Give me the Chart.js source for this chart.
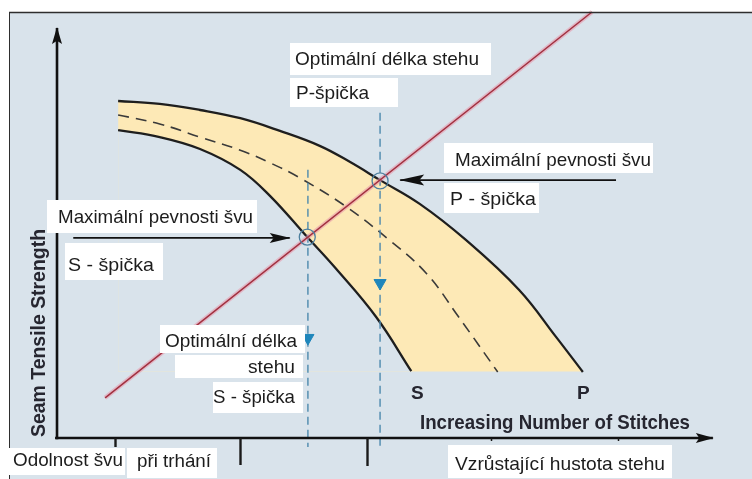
<!DOCTYPE html>
<html><head><meta charset="utf-8">
<script src="https://cdn.jsdelivr.net/npm/chart.js@4.4.0/dist/chart.umd.min.js"></script>
<style>html,body{margin:0;padding:0;background:#fff;overflow:hidden}#wrap{width:752px;height:479px;position:relative}</style>
</head><body><div id="wrap"><canvas id="c" width="752" height="479"></canvas></div>
<script>
// ---- data (schematic units: x = stitch density, y = seam strength) ----
const pCurveX = [9.4, 15.8, 22.0, 28.2, 34.3, 40.5, 45.1, 49.7, 55.8, 62.9, 71.1, 76.8, 80.9];
const pCurveY = [82.2, 81.5, 80.0, 78.0, 74.9, 71.2, 67.3, 62.9, 57.1, 48.3, 36.1, 24.6, 16.1];
const mCurveX = [9.4, 15.8, 22.0, 28.2, 32.8, 37.4, 44.6, 51.1, 56.8, 61.8, 67.8];
const mCurveY = [78.8, 76.6, 73.4, 70.2, 67.1, 63.4, 56.3, 48.3, 40.2, 29.5, 16.1];
const sCurveX = [9.4, 15.8, 22.0, 28.2, 32.8, 38.5, 42.8, 49.1, 54.5];
const sCurveY = [75.1, 73.4, 70.5, 65.4, 59.0, 49.0, 41.5, 29.5, 16.3];
const bandFloorY = 16.2;
const redLineX = [7.4, 82.3];
const redLineY = [9.8, 103.9];
const optimumX = [38.6, 49.7];          // S peak, P peak
const optimumTopY = [65.4, 79.3];
const optimumBottomY = [-2.2, -2.2];
const markerY = [24.4, 37.8];           // down-pointing triangles
const peakX = [38.5, 49.7];
const peakY = [49.0, 62.7];
const tickX = [8.9, 28.2, 47.7, 66.8, 86.3];
const tickLen = [9, 27, 28, 3, 3];
const axisMaxX = 100.9, axisMaxY = 100;
const arrowSX = [2.5, 35.8], arrowSY = 48.8;
const arrowPX = [86.0, 52.8], arrowPY = 62.9;

const boxLabels = [
  {text:'Optimální délka stehu', box:[290,43,201,32], x:295, y:65, align:'left', w:184},
  {text:'P-špička', box:[290,78,108,29], x:296, y:99, align:'left', w:73},
  {text:'Maximální pevnosti švu', box:[444,143,209,30], x:455, y:166, align:'left', w:196},
  {text:'P - špička', box:[444,183,95,30], x:450, y:205, align:'left', w:86},
  {text:'Maximální pevnosti švu', box:[47,200,210,33], x:58, y:223, align:'left', w:195},
  {text:'S - špička', box:[65,243,98,37], x:68, y:271, align:'left', w:86},
  {text:'Optimální délka', box:[160,325,145,28], x:297, y:347, align:'right', w:132},
  {text:'stehu', box:[175,355,128,23], x:295, y:373, align:'right', w:47},
  {text:'S - špička', box:[213,382,90,31], x:295, y:403, align:'right', w:82},
  {text:'Odolnost švu', box:[8,448,117,27], x:13, y:466, align:'left', w:110},
  {text:'při trhání', box:[127,448,90,30], x:137, y:467, align:'left', w:74},
  {text:'Vzrůstající hustota stehu', box:[448,445,224,33], x:455, y:470, align:'left', w:210}
];
const boldLabels = [
  {text:'Increasing Number of Stitches', x:420, y:429, w:270, rot:0, size:21},
  {text:'S', x:411, y:399, w:0, rot:0, size:19},
  {text:'P', x:577, y:399, w:0, rot:0, size:19},
  {text:'Seam Tensile Strength', x:45, y:437, w:208, rot:-90, size:21}
];

const BG = '#d9e3eb';
const pts = (xs, ys) => xs.map((x, i) => ({x, y: Array.isArray(ys) ? ys[i] : ys}));

function fitText(ctx, t, x, y, align, w, font, rot) {
  ctx.save();
  ctx.font = font;
  const m = ctx.measureText(t).width;
  const s = w ? w / m : 1;
  ctx.translate(x, y);
  if (rot) ctx.rotate(rot * Math.PI / 180);
  ctx.scale(s, 1);
  ctx.textAlign = align;
  ctx.textBaseline = 'alphabetic';
  ctx.fillText(t, 0, 0);
  ctx.restore();
}

const decor = {
  id: 'decor',
  beforeDraw(chart) {
    const ctx = chart.ctx;
    ctx.save();
    ctx.fillStyle = '#ffffff';
    ctx.fillRect(0, 0, 752, 479);
    ctx.fillStyle = BG;
    ctx.fillRect(9, 12, 743, 467);
    ctx.restore();
  },
  afterDatasetsDraw(chart) {
    const ctx = chart.ctx, xs = chart.scales.x, ys = chart.scales.y;
    // arrowheads
    chart.data.datasets.forEach((ds, i) => {
      if (!ds.arrow) return;
      const pts = chart.getDatasetMeta(i).data;
      const a = pts[pts.length - 2], b = pts[pts.length - 1];
      const ang = Math.atan2(b.y - a.y, b.x - a.x);
      const L = ds.arrow[0], H = ds.arrow[1];
      ctx.save();
      ctx.translate(b.x, b.y); ctx.rotate(ang);
      ctx.fillStyle = ds.borderColor;
      ctx.beginPath();
      ctx.moveTo(1, 0); ctx.lineTo(-L, -H); ctx.lineTo(-L * 0.8, 0); ctx.lineTo(-L, H); ctx.closePath();
      ctx.fill();
      ctx.restore();
    });
    // ticks under the axis
    ctx.save();
    ctx.strokeStyle = '#1a1a1a';
    const y0 = ys.getPixelForValue(0);
    tickX.forEach((v, i) => {
      const px = Math.round(xs.getPixelForValue(v)) + 0.5;
      ctx.lineWidth = tickLen[i] > 5 ? 2.4 : 1.5;
      ctx.beginPath(); ctx.moveTo(px, y0); ctx.lineTo(px, y0 + tickLen[i]); ctx.stroke();
    });
    ctx.restore();
    // frame
    ctx.save();
    ctx.strokeStyle = '#2e2e2e';
    ctx.lineWidth = 1.5;
    ctx.beginPath(); ctx.moveTo(9, 12.5); ctx.lineTo(752, 12.5); ctx.stroke();
    ctx.lineWidth = 1;
    ctx.beginPath(); ctx.moveTo(9.5, 12); ctx.lineTo(9.5, 479); ctx.stroke();
    ctx.restore();
    // white label boxes
    ctx.save();
    boxLabels.forEach(l => {
      ctx.fillStyle = '#ffffff';
      ctx.fillRect(l.box[0], l.box[1], l.box[2], l.box[3]);
      ctx.fillStyle = '#1c1c1c';
      fitText(ctx, l.text, l.x, l.y, l.align, l.w, '19px "Liberation Sans", Arial, sans-serif', 0);
    });
    ctx.fillStyle = '#262630';
    boldLabels.forEach(l => {
      fitText(ctx, l.text, l.x, l.y, 'left', l.w, 'bold ' + l.size + 'px "Liberation Sans", Arial, sans-serif', l.rot);
    });
    ctx.restore();
  }
};

const lineBase = {pointRadius: 0, fill: false, tension: 0};
const curve = {tension: 0.4, cubicInterpolationMode: 'default'};
new Chart(document.getElementById('c'), {
  type: 'line',
  data: {
    datasets: [
      Object.assign({}, lineBase, curve, {label: 'P', data: pts(pCurveX, pCurveY), borderColor: '#1e1e1e', borderWidth: 2.3,
        fill: {value: bandFloorY}, backgroundColor: '#fde9b6', order: 20}),
      Object.assign({}, lineBase, curve, {label: 'S', data: pts(sCurveX, sCurveY), borderColor: '#1e1e1e', borderWidth: 2.3,
        fill: {value: bandFloorY}, backgroundColor: BG, order: 19}),
      Object.assign({}, lineBase, curve, {label: 'mid', data: pts(mCurveX, mCurveY), borderColor: '#3a3a3a', borderWidth: 1.6,
        borderDash: [11, 7], order: 18}),
      Object.assign({}, lineBase, {label: 'optS', data: [{x: optimumX[0], y: optimumTopY[0]}, {x: optimumX[0], y: optimumBottomY[0]}],
        borderColor: '#4e8aae', borderWidth: 1.4, borderDash: [8, 5], order: 16}),
      Object.assign({}, lineBase, {label: 'optP', data: [{x: optimumX[1], y: optimumTopY[1]}, {x: optimumX[1], y: optimumBottomY[1]}],
        borderColor: '#4e8aae', borderWidth: 1.4, borderDash: [8, 5], order: 16}),
      Object.assign({}, lineBase, {label: 'redHalo', data: pts(redLineX, redLineY), borderColor: 'rgba(232,150,170,0.55)', borderWidth: 4.5, order: 15}),
      Object.assign({}, lineBase, {label: 'red', data: pts(redLineX, redLineY), borderColor: '#a2303f', borderWidth: 1.5, order: 14}),
      {label: 'peaks', data: pts(peakX, peakY), showLine: false, pointStyle: 'circle', pointRadius: 8,
        pointBorderColor: '#4d7f9e', pointBackgroundColor: 'rgba(0,0,0,0)', pointBorderWidth: 1.3, order: 13},
      {label: 'markers', data: pts(optimumX, markerY), showLine: false, pointStyle: 'triangle', pointRotation: 180, pointRadius: 7,
        pointBorderColor: '#1f86bb', pointBackgroundColor: '#1f86bb', pointBorderWidth: 1, order: 12},
      Object.assign({}, lineBase, {label: 'yAxis', data: [{x: 0, y: -0.3}, {x: 0, y: axisMaxY}], borderColor: '#111', borderWidth: 2.6, arrow: [16, 5], order: 11}),
      Object.assign({}, lineBase, {label: 'xAxis', data: [{x: -0.3, y: 0}, {x: axisMaxX, y: 0}], borderColor: '#111', borderWidth: 2.6, arrow: [17, 5], order: 11}),
      Object.assign({}, lineBase, {label: 'arrS', data: pts(arrowSX, arrowSY), borderColor: '#111', borderWidth: 1.6, arrow: [20, 5], order: 11}),
      Object.assign({}, lineBase, {label: 'arrP', data: pts(arrowPX, arrowPY), borderColor: '#111', borderWidth: 1.6, arrow: [24, 5.5], order: 11})
    ]
  },
  options: {
    responsive: false, animation: false, devicePixelRatio: 1, events: [],
    layout: {padding: 0, autoPadding: false},
    plugins: {legend: {display: false}, tooltip: {enabled: false}, title: {display: false}},
    scales: {
      x: {type: 'linear', min: -8.77, max: 106.92, display: false},
      y: {type: 'linear', min: -10, max: 106.83, display: false}
    }
  },
  plugins: [decor]
});
</script>
</body></html>
